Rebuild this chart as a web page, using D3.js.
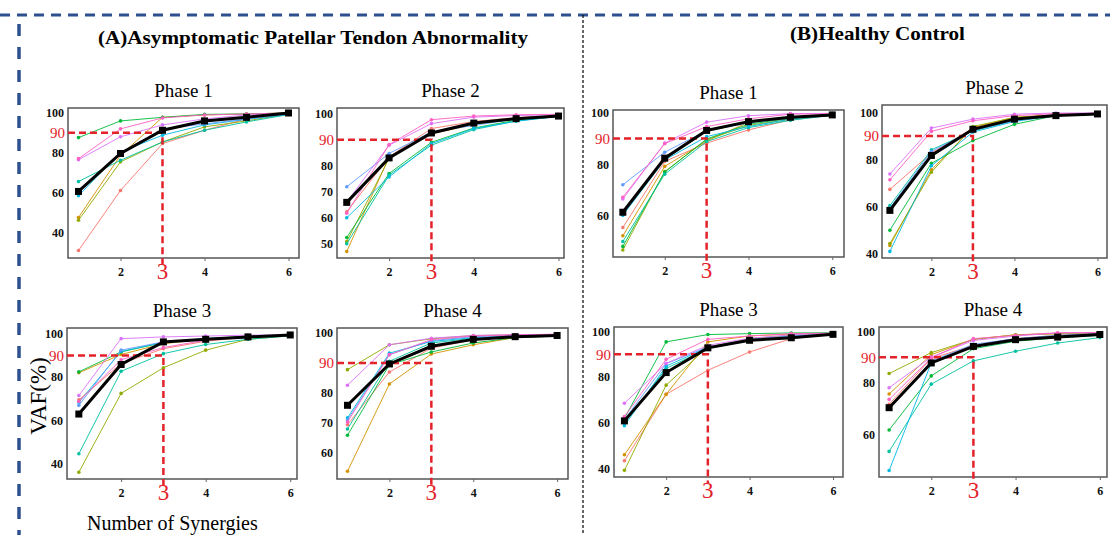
<!DOCTYPE html>
<html>
<head>
<meta charset="utf-8">
<script src="https://cdn.jsdelivr.net/npm/d3@7"></script>
<style>
  body { margin: 0; background: #fff; }
  svg { display: block; font-family: 'Liberation Serif', 'DejaVu Serif', serif; }
</style>
</head>
<body>
<div id="chart"></div>
<script>
// number of synergies on the x axis
const steps = [1, 2, 3, 4, 5, 6]
const xTicks = [2, 4, 6]
const threshold = 90
const chosen = 3

// one colour per subject (same order in every panel)
const subjectColours = ['#F8766D', '#D39200', '#93AA00', '#00BA38', '#00C19F', '#00B9E3', '#619CFF', '#DB72FB', '#FF61C3']

// VAF (%) per subject, rows follow subjectColours
const patPhase1 = [
  [30.8, 61, 84.6, 91.3, 97, 100],
  [47.4, 78.7, 97.8, 99, 99.5, 100],
  [46, 75.4, 85.4, 93, 96, 99.5],
  [87.6, 96, 97.8, 99.3, 99.5, 100],
  [65.5, 76.2, 85.4, 91.3, 95.5, 99.2],
  [58.3, 80.4, 88.8, 94, 96.8, 99.2],
  [61, 79, 92, 94.5, 97, 99.5],
  [76.5, 88, 94, 97, 99, 100],
  [77, 92, 97.5, 99, 99.5, 100]
]
const patPhase1Mean = [60.5, 79.6, 91.3, 96, 97.8, 100]

const patPhase2 = [
  [62.3, 83.4, 94.3, 97, 98.5, 99.3],
  [47, 83.4, 92.3, 95.8, 98, 99],
  [50.8, 82.8, 92.7, 96, 98, 99],
  [52.4, 77, 89, 94.5, 97.5, 99],
  [50, 76.4, 87.9, 93.9, 97.2, 99],
  [60, 75.7, 88.5, 94.3, 97.1, 99],
  [71.9, 84.7, 93, 95.5, 98, 99],
  [66, 87.9, 96.2, 98.7, 99.3, 99.6],
  [61.7, 88.1, 97.7, 99.1, 99.6, 99.8]
]
const patPhase2Mean = [65.9, 83, 92.6, 96.4, 98.1, 99.1]

const patPhase3 = [
  [69.5, 86.3, 93.1, 96.5, 98.5, 99.3],
  [82, 90.4, 95.4, 97.5, 98.5, 99.3],
  [36.2, 72.5, 84.3, 92.4, 97.4, 99],
  [82.4, 91.6, 95.9, 97.7, 98.8, 99.3],
  [44.7, 82.7, 90.8, 95, 97.4, 99],
  [68.4, 91.8, 96, 97.5, 98.5, 99.3],
  [67, 92.4, 96.2, 97.7, 98.7, 99.3],
  [71.5, 97.7, 98.5, 98.9, 99.3, 99.5],
  [68.8, 88, 93.6, 97, 98.6, 99.3]
]
const patPhase3Mean = [63, 85.8, 96.2, 97.4, 98.5, 99.4]

const patPhase4 = [
  [69.4, 87, 95, 97.8, 98.8, 99.2],
  [53.9, 83, 93, 96.1, 98.5, 99],
  [87.8, 96.1, 98.1, 99.2, 99.4, 99.5],
  [65.9, 89.4, 93.7, 96.7, 98.5, 99],
  [68, 90.6, 96.7, 98.3, 99, 99.3],
  [71.7, 93.3, 97.2, 98.5, 99, 99.4],
  [71, 92.8, 97.5, 98.8, 99.2, 99.5],
  [82.6, 96.1, 98.3, 99.2, 99.5, 99.6],
  [70.3, 92.8, 97.8, 99, 99.4, 99.6]
]
const patPhase4Mean = [75.9, 89.7, 95.6, 97.9, 98.8, 99.2]

const ctlPhase1 = [
  [55.6, 81.1, 88.2, 93.3, 97.2, 99],
  [52.4, 79.2, 89, 96.3, 98, 99],
  [46.9, 77.2, 89.5, 95, 97.5, 99],
  [48.3, 77, 89.8, 95.5, 97.8, 99],
  [50.2, 76.2, 88.8, 94.2, 97, 99],
  [60.3, 81.7, 90.7, 94.6, 97.5, 99],
  [72.1, 84.7, 93, 96, 98, 99],
  [66.6, 88.2, 96.3, 98.8, 99.6, 99.7],
  [67.3, 88, 94.6, 97.6, 99.4, 99.5]
]
const ctlPhase1Mean = [61.5, 82.4, 93.1, 96.5, 98.2, 99.1]

const ctlPhase2 = [
  [67.4, 82.8, 93.4, 97.6, 99, 99.4],
  [43.6, 75.7, 93.6, 98, 99, 99.4],
  [44.4, 74.7, 94.1, 97.9, 99, 99.4],
  [50.1, 78.5, 88.1, 95, 98.7, 99.4],
  [60.5, 84.2, 92.2, 96.5, 99, 99.4],
  [41.1, 77.4, 91.7, 96.2, 98.7, 99.4],
  [59.5, 83.5, 92.5, 96.5, 99, 99.4],
  [73.9, 93.4, 97.2, 99.3, 99.8, 99.8],
  [71.5, 92, 96.5, 98.7, 99.5, 99.7]
]
const ctlPhase2Mean = [58.5, 81.8, 92.9, 97.2, 98.7, 99.4]

const ctlPhase3 = [
  [43.5, 72.5, 83, 91, 96.8, 98.8],
  [46.1, 72.5, 95.4, 98, 98.8, 99.2],
  [39.3, 76.5, 93.2, 96.8, 98.2, 99],
  [62, 95.4, 98.6, 99, 99.3, 99.4],
  [60, 83.8, 92.5, 96, 97.5, 99],
  [58.8, 84.8, 93, 96.3, 97.8, 99],
  [61.5, 85.9, 93.2, 96.5, 98, 99],
  [68.6, 86, 93.9, 97, 98.5, 99.2],
  [62.8, 87.8, 96.5, 98, 99, 99.2]
]
const ctlPhase3Mean = [60.9, 82, 92.8, 96.1, 97.2, 98.7]

const ctlPhase4 = [
  [71.8, 89.5, 94.6, 97.2, 98.5, 99.2],
  [75.8, 91, 96.9, 98.7, 99, 99.2],
  [83.7, 91.8, 96.9, 98.7, 99.2, 99.4],
  [61.9, 82.8, 93.3, 96.2, 97.5, 98.5],
  [53.6, 79.6, 88.6, 92.3, 95.5, 97.6],
  [46.2, 87.8, 94, 96.5, 98, 99],
  [70, 88.5, 95, 97.2, 98.5, 99.2],
  [78.2, 90.1, 96.5, 98.2, 99.4, 99.5],
  [73.7, 89.7, 97.2, 98.5, 99.5, 99.5]
]
const ctlPhase4Mean = [70.5, 87.8, 94.2, 96.8, 97.8, 98.8]

// y tick labels per panel (90 is drawn in red separately)
const yTicks1 = [40, 60, 80, 100]
const yTicks2 = [50, 60, 70, 80, 100]
const yTicks3 = [60, 80, 100]
const yTicks4 = [60, 70, 80, 100]

const panels = [
  { title: 'Phase 1', subj: patPhase1, mean: patPhase1Mean, ticks: yTicks1, yd: [27, 102.5], xd: [0.75, 6.25], box: [68, 108, 231, 150] },
  { title: 'Phase 2', subj: patPhase2, mean: patPhase2Mean, ticks: yTicks2, yd: [44.5, 102.2], xd: [0.77, 6.13], box: [337, 108, 227, 150] },
  { title: 'Phase 1', subj: ctlPhase1, mean: ctlPhase1Mean, ticks: yTicks3, yd: [44.2, 101], xd: [0.765, 6.28], box: [613, 110, 231, 147] },
  { title: 'Phase 2', subj: ctlPhase2, mean: ctlPhase2Mean, ticks: yTicks1, yd: [38.3, 103.2], xd: [0.81, 6.23], box: [882, 105, 225, 153] },
  { title: 'Phase 3', subj: patPhase3, mean: patPhase3Mean, ticks: yTicks1, yd: [33.1, 102.6], xd: [0.72, 6.16], box: [67, 328, 230, 151] },
  { title: 'Phase 4', subj: patPhase4, mean: patPhase4Mean, ticks: yTicks4, yd: [51.3, 101.7], xd: [0.75, 6.26], box: [337, 328, 231, 151] },
  { title: 'Phase 3', subj: ctlPhase3, mean: ctlPhase3Mean, ticks: yTicks1, yd: [36.4, 101.9], xd: [0.75, 6.24], box: [614, 327, 229, 150] },
  { title: 'Phase 4', subj: ctlPhase4, mean: ctlPhase4Mean, ticks: yTicks3, yd: [43.7, 101.7], xd: [0.76, 6.17], box: [879, 327, 228, 150] }
]

const red = '#e3222a'
const svg = d3.select('#chart').append('svg')
  .attr('width', 1110)
  .attr('height', 535)

// frame decoration
svg.append('line')
  .attr('x1', 0).attr('x2', 1110).attr('y1', 15).attr('y2', 15)
  .attr('stroke', '#2d5190').attr('stroke-width', 3)
  .attr('stroke-dasharray', '10,7')
svg.append('line')
  .attr('x1', 19).attr('x2', 19).attr('y1', 24).attr('y2', 535)
  .attr('stroke', '#2d5190').attr('stroke-width', 3.5)
  .attr('stroke-dasharray', '12,11')
svg.append('line')
  .attr('x1', 583).attr('x2', 583).attr('y1', 15).attr('y2', 535)
  .attr('stroke', '#000').attr('stroke-width', 1.2)
  .attr('stroke-dasharray', '3,2')

svg.append('text')
  .attr('x', 98).attr('y', 44)
  .attr('textLength', 430).attr('lengthAdjust', 'spacingAndGlyphs')
  .style('font-size', '19px').style('font-weight', 'bold')
  .text('(A)Asymptomatic Patellar Tendon Abnormality')
svg.append('text')
  .attr('x', 790).attr('y', 40)
  .attr('textLength', 175).attr('lengthAdjust', 'spacingAndGlyphs')
  .style('font-size', '19px').style('font-weight', 'bold')
  .text('(B)Healthy Control')

svg.append('text')
  .attr('transform', 'translate(46,396) rotate(-90)')
  .attr('text-anchor', 'middle')
  .style('font-size', '23px')
  .text('VAF(%)')
svg.append('text')
  .attr('x', 87).attr('y', 530)
  .style('font-size', '20px')
  .text('Number of Synergies')

panels.forEach(p => {
  const [bx, by, bw, bh] = p.box
  const x = d3.scaleLinear().domain(p.xd).range([bx, bx + bw])
  const y = d3.scaleLinear().domain(p.yd).range([by + bh, by])
  const line = d3.line().x((d, i) => x(steps[i])).y(d => y(d))
  const g = svg.append('g')

  g.append('text')
    .attr('x', bx + bw / 2).attr('y', by - 11)
    .attr('text-anchor', 'middle')
    .style('font-size', '19px')
    .text(p.title)

  g.append('rect')
    .attr('x', bx).attr('y', by).attr('width', bw).attr('height', bh)
    .attr('fill', 'none').attr('stroke', '#555').attr('stroke-width', 1.5)

  p.subj.forEach((vals, i) => {
    g.append('path')
      .attr('d', line(vals))
      .attr('fill', 'none')
      .attr('stroke', subjectColours[i])
      .attr('stroke-width', 1)
      .attr('opacity', 0.9)
    g.selectAll(null).data(vals).join('circle')
      .attr('cx', (d, j) => x(steps[j]))
      .attr('cy', d => y(d))
      .attr('r', 1.8)
      .attr('fill', subjectColours[i])
  })

  // 90% criterion guide
  g.append('path')
    .attr('d', `M${bx},${y(threshold)}H${x(chosen)}V${by + bh + 6}`)
    .attr('fill', 'none')
    .attr('stroke', red).attr('stroke-width', 2.5)
    .attr('stroke-dasharray', '7,4')

  g.append('path')
    .attr('d', line(p.mean))
    .attr('fill', 'none')
    .attr('stroke', '#000')
    .attr('stroke-width', 3)
  g.selectAll(null).data(p.mean).join('rect')
    .attr('x', (d, j) => x(steps[j]) - 3.5)
    .attr('y', d => y(d) - 3.5)
    .attr('width', 7).attr('height', 7)
    .attr('fill', '#000')

  const ya = g.append('g')
    .attr('transform', `translate(${bx},0)`)
    .call(d3.axisLeft(y).tickValues(p.ticks).tickFormat(d3.format('d')).tickSize(0).tickPadding(4))
  const xa = g.append('g')
    .attr('transform', `translate(0,${by + bh})`)
    .call(d3.axisBottom(x).tickValues(xTicks).tickFormat(d3.format('d')).tickSize(3).tickPadding(6))
  ;[ya, xa].forEach(a => {
    a.select('.domain').remove()
    a.selectAll('text')
      .style('font-family', "'Liberation Serif', serif")
      .style('font-size', '12px')
      .style('font-weight', 'bold')
      .attr('fill', '#111')
    a.selectAll('line').attr('stroke', '#666')
  })

  g.append('text')
    .attr('x', bx - 3).attr('y', y(threshold))
    .attr('dy', '0.35em')
    .attr('text-anchor', 'end')
    .attr('fill', red)
    .style('font-size', '15px')
    .text(threshold)
  g.append('text')
    .attr('x', x(chosen)).attr('y', by + bh + 21)
    .attr('text-anchor', 'middle')
    .attr('fill', red)
    .style('font-size', '23px')
    .text(chosen)
})
</script>
</body>
</html>
